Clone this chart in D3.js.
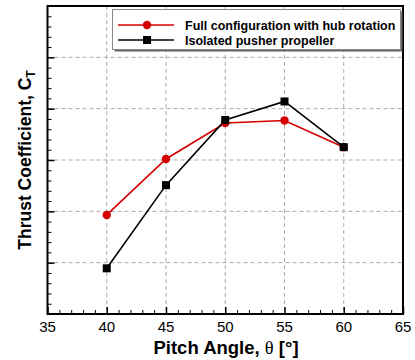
<!DOCTYPE html>
<html>
<head>
<meta charset="utf-8">
<script src="https://cdn.jsdelivr.net/npm/d3@7"></script>
<style>
  body { margin: 0; background: #fff; }
  svg { font-family: Arial, "Liberation Sans", sans-serif; }
</style>
</head>
<body>
<svg id="chart" width="415" height="360"></svg>
<script>
// pitch angles (deg)
const pitch = [40, 45, 50, 55, 60];
// thrust coefficient, arbitrary units (axis carries no numbers)
const fullConfig = [1.93, 3.02, 3.72, 3.77, 3.25];
const isolated = [0.89, 2.51, 3.78, 4.14, 3.25];
const xTicks = [35, 40, 45, 50, 55, 60, 65];
const seriesNames = ['Full configuration with hub rotation', 'Isolated pusher propeller'];

const box = {left: 47.5, top: 6, right: 403, bottom: 314};

const svg = d3.select('#chart');

const x = d3.scaleLinear().domain([35, 65]).range([box.left, box.right]);
const y = d3.scaleLinear().domain([0, 6]).range([box.bottom, box.top]);

// grid
const grid = svg.append('g').attr('class', 'grid');
grid.selectAll('line.vg')
  .data([40, 45, 50, 55, 60])
  .enter().append('line')
  .attr('x1', d => x(d)).attr('x2', d => x(d))
  .attr('y1', box.top).attr('y2', box.bottom)
  .style('stroke', '#aaa').style('stroke-dasharray', '4,3').style('stroke-width', 1);
grid.selectAll('line.hg')
  .data([1, 2, 3, 4, 5])
  .enter().append('line')
  .attr('y1', d => y(d)).attr('y2', d => y(d))
  .attr('x1', box.left).attr('x2', box.right)
  .style('stroke', '#aaa').style('stroke-dasharray', '4,3').style('stroke-width', 1);

// x axis, ticks pointing inward
const xMinor = d3.range(36, 65, 1).filter(d => d % 5 !== 0);
svg.append('g')
  .attr('transform', `translate(0,${box.bottom})`)
  .call(d3.axisTop(x).tickValues(xMinor).tickSize(4).tickFormat(''))
  .call(g => g.select('.domain').remove())
  .selectAll('line').style('stroke', '#000').style('stroke-width', 1);

const xAx = svg.append('g')
  .attr('transform', `translate(0,${box.bottom})`)
  .call(d3.axisTop(x).tickValues(xTicks).tickSize(7).tickFormat(''));
xAx.select('.domain').remove();
xAx.selectAll('line').style('stroke', '#000').style('stroke-width', 1.5);

svg.append('g').selectAll('text')
  .data(xTicks)
  .enter().append('text')
  .attr('x', d => x(d))
  .attr('y', 332)
  .attr('text-anchor', 'middle')
  .style('font-size', '15px')
  .text(d => d);

// y axis, no labels
const yMinor = d3.range(0.2, 6, 0.2).filter(d => Math.abs(d - Math.round(d)) > 0.01);
svg.append('g')
  .attr('transform', `translate(${box.left},0)`)
  .call(d3.axisRight(y).tickValues(yMinor).tickSize(4).tickFormat(''))
  .call(g => g.select('.domain').remove())
  .selectAll('line').style('stroke', '#000').style('stroke-width', 1);

const yAx = svg.append('g')
  .attr('transform', `translate(${box.left},0)`)
  .call(d3.axisRight(y).tickValues([1, 2, 3, 4, 5]).tickSize(7).tickFormat(''));
yAx.select('.domain').remove();
yAx.selectAll('line').style('stroke', '#000').style('stroke-width', 1.5);

// frame
svg.append('rect')
  .attr('x', box.left).attr('y', box.top)
  .attr('width', box.right - box.left).attr('height', box.bottom - box.top)
  .style('fill', 'none').style('stroke', '#000').style('stroke-width', 2);

// series
const line = d3.line().x(d => x(d[0])).y(d => y(d[1]));
const redData = pitch.map((p, i) => [p, fullConfig[i]]);
const blackData = pitch.map((p, i) => [p, isolated[i]]);

svg.append('path').datum(redData).attr('d', line)
  .style('fill', 'none').style('stroke', '#d40000').style('stroke-width', 1.6);
svg.append('path').datum(blackData).attr('d', line)
  .style('fill', 'none').style('stroke', '#000').style('stroke-width', 1.6);

svg.selectAll('circle.red')
  .data(redData).enter().append('circle')
  .attr('cx', d => x(d[0])).attr('cy', d => y(d[1])).attr('r', 4.2)
  .style('fill', '#d40000');
svg.selectAll('rect.blk')
  .data(blackData).enter().append('rect')
  .attr('x', d => x(d[0]) - 4).attr('y', d => y(d[1]) - 4)
  .attr('width', 8).attr('height', 8)
  .style('fill', '#000');

// legend
const lg = svg.append('g');
lg.append('rect')
  .attr('x', 114.5).attr('y', 11.5).attr('width', 288).attr('height', 40)
  .style('fill', '#666');
lg.append('rect')
  .attr('x', 112.5).attr('y', 9.5).attr('width', 288).attr('height', 40)
  .style('fill', '#fff').style('stroke', '#888').style('stroke-width', 1);

const legendRows = [
  {name: seriesNames[0], color: '#d40000', shape: 'circle', y: 25},
  {name: seriesNames[1], color: '#000', shape: 'square', y: 40}
];
legendRows.forEach(r => {
  lg.append('line')
    .attr('x1', 118).attr('x2', 174).attr('y1', r.y).attr('y2', r.y)
    .style('stroke', r.color).style('stroke-width', 1.6);
  if (r.shape === 'circle') {
    lg.append('circle').attr('cx', 147).attr('cy', r.y).attr('r', 4.2).style('fill', r.color);
  } else {
    lg.append('rect').attr('x', 143).attr('y', r.y - 4).attr('width', 8).attr('height', 8).style('fill', r.color);
  }
  lg.append('text')
    .attr('x', 185).attr('y', r.y + 4.5)
    .style('font-size', '12.5px').style('font-weight', 'bold')
    .text(r.name);
});

// axis titles
const xt = svg.append('text')
  .attr('x', 226).attr('y', 354)
  .attr('text-anchor', 'middle')
  .style('font-size', '18.5px').style('font-weight', 'bold');
xt.append('tspan').text('Pitch Angle, ');
xt.append('tspan').style('font-family', '"Liberation Serif", "DejaVu Serif", serif').style('font-weight', 'normal').text('θ');
xt.append('tspan').text(' [°]');

const yt = svg.append('text')
  .attr('transform', 'translate(31,160) rotate(-90)')
  .attr('text-anchor', 'middle')
  .style('font-size', '17.5px').style('font-weight', 'bold');
yt.append('tspan').text('Thrust Coefficient, C');
yt.append('tspan').attr('dy', 4).style('font-size', '12px').text('T');
</script>
</body>
</html>
